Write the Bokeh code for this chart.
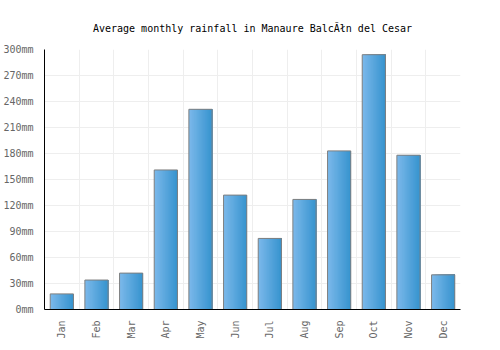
from bokeh.plotting import figure
from bokeh.models import FixedTicker, PrintfTickFormatter, Range1d
from bokeh.transform import dodge
from bokeh.embed import file_html
from bokeh.resources import INLINE

months = ["Jan", "Feb", "Mar", "Apr", "May", "Jun", "Jul", "Aug", "Sep", "Oct", "Nov", "Dec"]
rainfall = [18, 34, 42, 161, 231, 132, 82, 127, 183, 294, 178, 40]
y_ticks = [0, 30, 60, 90, 120, 150, 180, 210, 240, 270, 300]

FONT = "DejaVu Sans Mono"
xs = list(range(1, len(months) + 1))
data = dict(x=xs, rain=rainfall)

p = figure(width=500, height=350, output_backend="svg", toolbar_location=None,
           x_range=Range1d(0.5, 12.5), y_range=Range1d(0, 300),
           min_border_left=40, min_border_right=40, min_border_top=49, min_border_bottom=41)
p.title.text = "Average monthly rainfall in Manaure BalcĂłn del Cesar"
p.title.align = "center"
p.title.text_font = FONT
p.title.text_font_size = "10px"
p.title.text_font_style = "normal"
p.title.text_color = "#000000"
p.title.offset = 0
p.title.standoff = 32
p.outline_line_color = None

# gradient bars built from overlapping slices (each runs to the right edge)
bw = 0.67
n = 20
c0 = (0x7a, 0xb8, 0xea)
c1 = (0x38, 0x94, 0xcf)
for k in range(n):
    t = k / (n - 1)
    col = "#%02x%02x%02x" % tuple(int(round(a + (b - a) * t)) for a, b in zip(c0, c1))
    p.quad(left=dodge("x", -bw / 2 + bw * k / n), right=dodge("x", bw / 2),
           top="rain", bottom=0, source=data, fill_color=col, line_color=None)
p.vbar(x="x", top="rain", bottom=0, width=bw, source=data, fill_color=None,
       line_color="#7f7f7f", line_width=1)

p.xgrid.ticker = FixedTicker(ticks=[i + 0.5 for i in range(0, 13)])
p.ygrid.ticker = FixedTicker(ticks=y_ticks)
p.xgrid.grid_line_color = "#eeeeee"
p.ygrid.grid_line_color = "#eeeeee"
p.grid.level = "underlay"

p.xaxis.ticker = FixedTicker(ticks=xs)
p.xaxis.major_label_overrides = {i: m for i, m in zip(xs, months)}
p.xaxis.major_label_orientation = 3.14159265 / 2
p.yaxis.ticker = FixedTicker(ticks=y_ticks)
p.yaxis.formatter = PrintfTickFormatter(format="%dmm")
for ax in (p.xaxis, p.yaxis):
    ax.axis_line_color = "#000000"
    ax.axis_line_width = 1
    ax.major_tick_line_color = None
    ax.minor_tick_line_color = None
    ax.major_label_text_font = FONT
    ax.major_label_text_font_size = "10px"
    ax.major_label_text_color = "#666666"
    ax.major_label_standoff = 5

open("out.html", "w").write(file_html(p, INLINE))
